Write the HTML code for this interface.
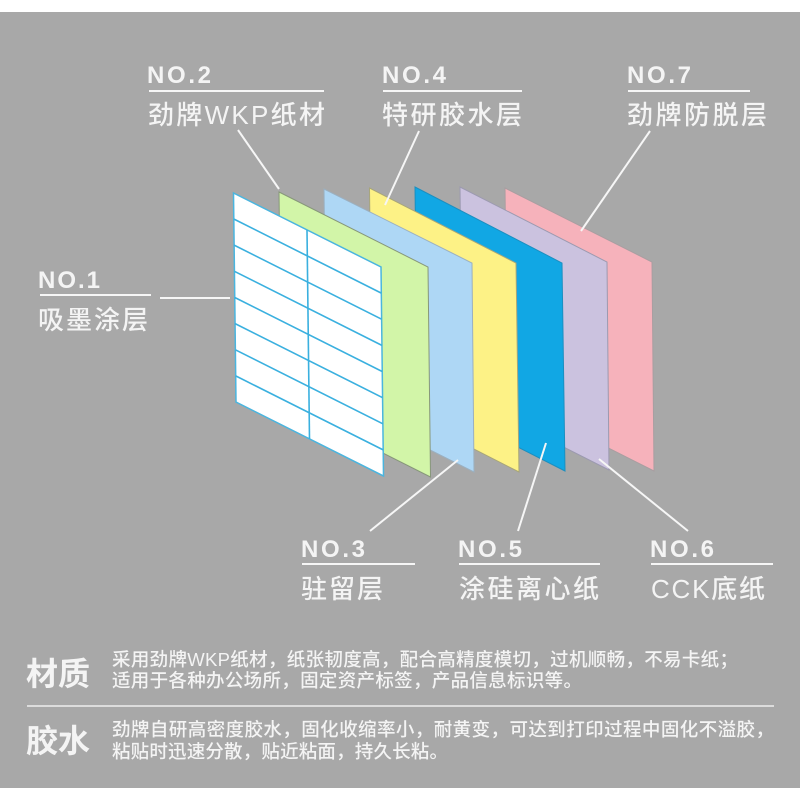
<!DOCTYPE html>
<html lang="zh"><head><meta charset="utf-8"><title>标签结构</title>
<style>
html,body{margin:0;padding:0;background:#fff;width:800px;height:800px;overflow:hidden}
svg{display:block}
text{fill:#f4f4f4;font-family:"Liberation Sans","Noto Sans CJK SC",sans-serif}
.n{font-size:24px;font-weight:700}
.c{font-size:26px;font-weight:500}
.b{font-size:18.5px;font-weight:500}
.h{font-size:32px;font-weight:700}
</style></head><body>
<svg width="800" height="800" viewBox="0 0 800 800" xmlns="http://www.w3.org/2000/svg">
<rect x="0" y="12" width="800" height="776" fill="#a8a8a8"/>
<g stroke-width="1">
<polygon points="505,188 652,262 654,471 507.5,397" fill="#f6b2bb" stroke="#a99ea1"/>
<polygon points="460,187 607,262 609,470 462.5,396" fill="#cbc2df" stroke="#9c9ab0"/>
<polygon points="415,187 562,263 565,471 417.5,396" fill="#11a7e4" stroke="#1b8fc0"/>
<polygon points="369.5,188 516,263 519,472 372,397" fill="#fdf286" stroke="#a8a67a"/>
<polygon points="324,189 472,263 474,472 326.5,398" fill="#aed7f5" stroke="#9bb0c0"/>
<polygon points="279,192 428,267 430.5,477 281.5,402" fill="#d2f5a8" stroke="#87977a"/>
</g>
<polygon points="233.5,193 381,267 383.5,476 236,402" fill="#fff" stroke="#4ab5df" stroke-width="1.5"/>
<g stroke="#3ab0df" stroke-width="1.6" fill="none">
<path d="M233.8,219 L381.3,293.1 M234.1,245.1 L381.6,319.2 M234.4,271.3 L381.9,345.4 M234.8,297.5 L382.2,371.5 M235.1,323.6 L382.5,397.6 M235.4,349.8 L382.9,423.8 M235.7,375.9 L383.2,449.9"/>
<path d="M307,230 L309.5,439"/>
</g>
<g stroke="#f6f6f6" stroke-width="2" fill="none">
<path d="M160,298 H230"/>
<path d="M238,130 L279,189"/>
<path d="M419,131 L385,205"/>
<path d="M650,131 L581,231"/>
<path d="M370,531 L458,460"/>
<path d="M518,531 L546,443"/>
<path d="M688,531 L599,459"/>
<path d="M149,91 H324 M383,91 H522 M628,91 H750 M40,295 H151 M302,564 H415 M459,564 H600 M651,564 H773"/>
</g>
<g>
<text class="n" x="147" y="83" textLength="64">NO.2</text>
<text class="n" x="382" y="83" textLength="64">NO.4</text>
<text class="n" x="627" y="83" textLength="64">NO.7</text>
<text class="n" x="38" y="288" textLength="62">NO.1</text>
<text class="n" x="301" y="557" textLength="64">NO.3</text>
<text class="n" x="458" y="557" textLength="64">NO.5</text>
<text class="n" x="650" y="557" textLength="64">NO.6</text>
<text class="c" x="148" y="124" textLength="177">劲牌WKP纸材</text>
<text class="c" x="382" y="124" textLength="140">特研胶水层</text>
<text class="c" x="627" y="124" textLength="140">劲牌防脱层</text>
<text class="c" x="38" y="329" textLength="110">吸墨涂层</text>
<text class="c" x="301" y="598" textLength="82">驻留层</text>
<text class="c" x="459" y="598" textLength="140">涂硅离心纸</text>
<text class="c" x="651" y="598" textLength="114">CCK底纸</text>
</g>
<text class="h" x="26" y="685" textLength="64">材质</text>
<text class="h" x="26" y="752" textLength="64">胶水</text>
<rect x="27" y="705" width="747" height="2" fill="#dcdcdc"/>
<text class="b" x="112" y="666" textLength="626">采用劲牌WKP纸材，纸张韧度高，配合高精度模切，过机顺畅，不易卡纸；</text>
<text class="b" x="112" y="687" textLength="470">适用于各种办公场所，固定资产标签，产品信息标识等。</text>
<text class="b" x="112" y="736" textLength="662">劲牌自研高密度胶水，固化收缩率小，耐黄变，可达到打印过程中固化不溢胶，</text>
<text class="b" x="112" y="758" textLength="336">粘贴时迅速分散，贴近粘面，持久长粘。</text>
</svg>
</body></html>
